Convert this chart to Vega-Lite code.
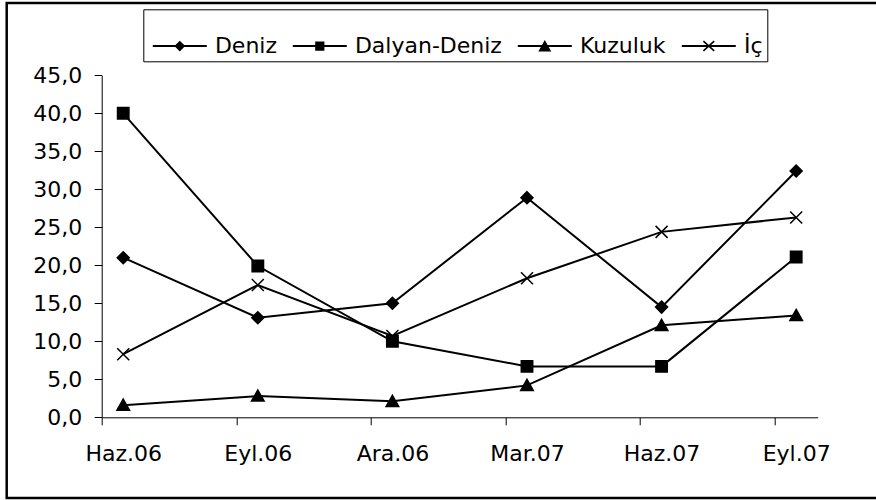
{
  "$schema": "https://vega.github.io/schema/vega-lite/v6.json",
  "width": 869.3,
  "height": 495,
  "autosize": {"type": "none"},
  "padding": {"left": 6.7, "top": 3, "right": 0, "bottom": 2},
  "background": "white",
  "config": {
    "font": "DejaVu Sans",
    "view": {"stroke": "black", "strokeWidth": 2.5, "strokeDash": [869.3, 495, 1400, 0]}
  },
  "data": {
    "values": [
      {"date": "Haz.06", "i": 0, "series": "Deniz", "value": 21.0},
      {"date": "Eyl.06", "i": 1, "series": "Deniz", "value": 13.1},
      {"date": "Ara.06", "i": 2, "series": "Deniz", "value": 15.0},
      {"date": "Mar.07", "i": 3, "series": "Deniz", "value": 28.9},
      {"date": "Haz.07", "i": 4, "series": "Deniz", "value": 14.5},
      {"date": "Eyl.07", "i": 5, "series": "Deniz", "value": 32.4},
      {"date": "Haz.06", "i": 0, "series": "Dalyan-Deniz", "value": 40.0},
      {"date": "Eyl.06", "i": 1, "series": "Dalyan-Deniz", "value": 19.9},
      {"date": "Ara.06", "i": 2, "series": "Dalyan-Deniz", "value": 10.0},
      {"date": "Mar.07", "i": 3, "series": "Dalyan-Deniz", "value": 6.7},
      {"date": "Haz.07", "i": 4, "series": "Dalyan-Deniz", "value": 6.7},
      {"date": "Eyl.07", "i": 5, "series": "Dalyan-Deniz", "value": 21.1},
      {"date": "Haz.06", "i": 0, "series": "Kuzuluk", "value": 1.6},
      {"date": "Eyl.06", "i": 1, "series": "Kuzuluk", "value": 2.8},
      {"date": "Ara.06", "i": 2, "series": "Kuzuluk", "value": 2.1},
      {"date": "Mar.07", "i": 3, "series": "Kuzuluk", "value": 4.2},
      {"date": "Haz.07", "i": 4, "series": "Kuzuluk", "value": 12.1},
      {"date": "Eyl.07", "i": 5, "series": "Kuzuluk", "value": 13.4},
      {"date": "Haz.06", "i": 0, "series": "İç", "value": 8.3},
      {"date": "Eyl.06", "i": 1, "series": "İç", "value": 17.4},
      {"date": "Ara.06", "i": 2, "series": "İç", "value": 10.7},
      {"date": "Mar.07", "i": 3, "series": "İç", "value": 18.3},
      {"date": "Haz.07", "i": 4, "series": "İç", "value": 24.4},
      {"date": "Eyl.07", "i": 5, "series": "İç", "value": 26.3}
    ]
  },
  "encoding": {
    "x": {
      "field": "date",
      "type": "ordinal",
      "scale": {"type": "point", "domain": ["Haz.06", "Eyl.06", "Ara.06", "Mar.07", "Haz.07", "Eyl.07"], "range": [95, 811], "padding": 0.16},
      "axis": {
        "title": null,
        "offset": -80.7,
        "labelAngle": 0,
        "labelFontSize": 22,
        "labelFont": "DejaVu Sans",
        "labelColor": "black",
        "labelPadding": 19,
        "labelOverlap": false,
        "tickOffset": -21.5,
        "labelOffset": 21.5,
        "tickSize": 7.5,
        "tickColor": "black",
        "tickWidth": 1,
        "domainColor": "black",
        "domainWidth": 1,
        "grid": false
      }
    },
    "y": {
      "field": "value",
      "type": "quantitative",
      "scale": {"domain": [0, 45], "range": [414.3, 72.3], "nice": false, "zero": false},
      "axis": {
        "title": null,
        "offset": -95,
        "values": [0, 5, 10, 15, 20, 25, 30, 35, 40, 45],
        "labelExpr": "replace(format(datum.value, '.1f'), '.', ',')",
        "labelFontSize": 22,
        "labelFont": "DejaVu Sans",
        "labelColor": "black",
        "labelPadding": 12.5,
        "tickSize": 7.5,
        "tickColor": "black",
        "tickWidth": 1,
        "domainColor": "black",
        "domainWidth": 1,
        "grid": false
      }
    }
  },
  "resolve": {"scale": {"shape": "independent"}, "legend": {"shape": "independent"}},
  "layer": [
    {
      "mark": {"type": "line", "color": "black", "strokeWidth": 2},
      "encoding": {
        "detail": {"field": "series"},
        "order": {"field": "i"}
      }
    },
    {
      "mark": {"type": "point", "filled": true, "fill": "black", "stroke": "black", "strokeWidth": 1.5, "opacity": 1, "size": 144},
      "encoding": {
        "shape": {
          "field": "series",
          "type": "nominal",
          "scale": {
            "domain": ["Deniz", "Dalyan-Deniz", "Kuzuluk", "İç"],
            "range": ["M0,-1L1,0L0,1L-1,0Z", "M-0.95,-0.95H0.95V0.95H-0.95Z", "M0,-1L1.05,0.85H-1.05Z", "M-1,-1L1,1M-1,1L1,-1"]
          },
          "legend": null
        }
      }
    },
    {
      "mark": {"type": "point", "filled": true, "fill": "black", "opacity": 0, "size": 144},
      "encoding": {
        "shape": {
          "field": "series",
          "type": "nominal",
          "scale": {
            "domain": ["Deniz", "Dalyan-Deniz", "Kuzuluk", "İç"],
            "range": [
              "M-0.833,-0.029H0.833V0.029H-0.833ZM0,-0.167L0.167,0L0,0.167L-0.167,0Z",
              "M-0.833,-0.029H0.833V0.029H-0.833ZM-0.142,-0.142H0.142V0.142H-0.142Z",
              "M-0.833,-0.029H0.833V0.029H-0.833ZM0,-0.183L0.2,0.167H-0.2Z",
              "M-0.833,-0.029H0.833V0.029H-0.833ZM-0.183,-0.132L-0.15,-0.168L0.183,0.132L0.15,0.168ZM-0.15,0.168L-0.183,0.132L0.15,-0.168L0.183,-0.132Z"
            ]
          },
          "legend": {
            "title": null,
            "orient": "none",
            "legendX": 136.6,
            "legendY": 6.3,
            "direction": "horizontal",
            "strokeColor": "black",
            "fillColor": "white",
            "padding": 4,
            "labelFontSize": 22,
            "labelFont": "DejaVu Sans",
            "labelColor": "black",
            "labelOffset": 2.6,
            "columnPadding": 10,
            "symbolSize": 4199,
            "symbolFillColor": "black",
            "symbolStrokeColor": "black",
            "symbolStrokeWidth": 0,
            "symbolOpacity": 1
          }
        }
      }
    }
  ]
}
